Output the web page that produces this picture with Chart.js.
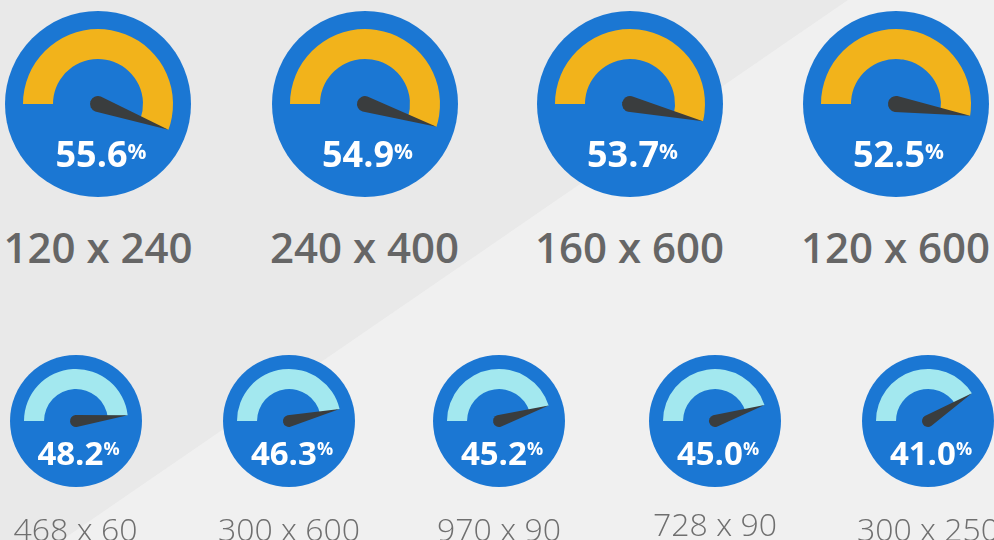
<!DOCTYPE html>
<html>
<head>
<meta charset="utf-8">
<script src="https://cdn.jsdelivr.net/npm/chart.js@4.4.1/dist/chart.umd.min.js"></script>
<style>
  html, body { margin: 0; padding: 0; }
  body {
    width: 994px; height: 540px; overflow: hidden; position: relative;
    background: #e9e9e9; font-family: "Open Sans", sans-serif;
  }
  .light {
    position: absolute; left: 0; top: 0; width: 994px; height: 540px;
    background: #f0f0f0;
    clip-path: polygon(848px 0, 994px 0, 994px 540px, 62px 540px);
  }
  .gauge { position: absolute; }
  .rate {
    position: absolute; width: 200px; text-align: center; color: #fff;
    font-weight: 700; line-height: 1; white-space: nowrap;
  }
  .rate sup { vertical-align: top; position: relative; line-height: 1; }
  .size {
    position: absolute; width: 260px; text-align: center; line-height: 1; white-space: nowrap;
  }
  .big .size { font-weight: 600; color: #666; }
  .small .size { font-weight: 300; color: #6f6f6f; }
</style>
</head>
<body>
<div class="light"></div>
<div id="wrap"></div>
<script>
// --- DATOS ---
const sizes = ['120 x 240', '240 x 400', '160 x 600', '120 x 600',
               '468 x 60', '300 x 600', '970 x 90', '728 x 90', '300 x 250'];
const rates = [55.6, 54.9, 53.7, 52.5, 48.2, 46.3, 45.2, 45.0, 41.0];
const topCount = 4;   // los 4 primeros van en la fila grande

// --- ESTILO ---
const FACE = '#1b77d3';
const NEEDLE = '#3a3d3e';
const ARC_BIG = '#f2b31b';
const ARC_SMALL = '#a3e8ef';

// geometría por fila
const rows = {
    big:   { cx: [98, 364.5, 629.5, 895.5], cy: 104, face: 93, outer: 75, cutout: '60%', hub: 8,
             numSize: 36, pctSize: 21, numBase: 168, pctTop: 5, labelSize: 42, sizeBase: [263, 263, 263, 263] },
    small: { cx: [75.5, 289, 499, 715, 928], cy: 421, face: 66, outer: 52, cutout: '61.5%', hub: 6,
             numSize: 33, pctSize: 18, numBase: 465, pctTop: 3, labelSize: 32, sizeBase: [541, 541, 541, 536, 541] }
};

// cara azul + aguja, calculadas desde el arco que dibuja Chart.js
const dialPlugin = {
    id: 'dial',
    beforeDatasetsDraw(chart, args, opts) {
        const arc = chart.getDatasetMeta(0).data[0];
        const ctx = chart.ctx;
        ctx.save();
        ctx.fillStyle = FACE;
        ctx.beginPath();
        ctx.arc(arc.x, arc.y, opts.face, 0, Math.PI * 2);
        ctx.fill();
        ctx.restore();
    },
    afterDatasetsDraw(chart, args, opts) {
        const arc = chart.getDatasetMeta(0).data[0];
        const ctx = chart.ctx;
        const a = arc.endAngle;
        const tipX = arc.x + Math.cos(a) * arc.outerRadius;
        const tipY = arc.y + Math.sin(a) * arc.outerRadius;
        ctx.save();
        ctx.fillStyle = NEEDLE;
        ctx.beginPath();
        ctx.arc(arc.x, arc.y, opts.hub, a + Math.PI / 2, a + Math.PI * 1.5);
        ctx.lineTo(tipX, tipY);
        ctx.closePath();
        ctx.fill();
        ctx.restore();
    }
};

const wrap = document.getElementById('wrap');

rates.forEach((value, i) => {
    const isBig = i < topCount;
    const row = isBig ? rows.big : rows.small;
    const k = isBig ? i : i - topCount;
    const cx = row.cx[k];
    const half = row.face + 3;

    const box = document.createElement('div');
    box.className = 'gauge ' + (isBig ? 'big' : 'small');
    box.style.left = '0px';
    box.style.top = '0px';

    const canvas = document.createElement('canvas');
    canvas.width = half * 2;
    canvas.height = half * 2;
    canvas.style.position = 'absolute';
    canvas.style.left = (cx - half) + 'px';
    canvas.style.top = (row.cy - half) + 'px';
    box.appendChild(canvas);

    // porcentaje
    const rate = document.createElement('div');
    rate.className = 'rate';
    rate.style.fontSize = row.numSize + 'px';
    rate.style.left = (cx - 100 + 3) + 'px';
    rate.style.top = (row.numBase - 0.888 * row.numSize) + 'px';
    const num = document.createElement('span');
    num.textContent = value.toFixed(1);
    const pct = document.createElement('sup');
    pct.textContent = '%';
    pct.style.fontSize = row.pctSize + 'px';
    pct.style.top = row.pctTop + 'px';
    rate.appendChild(num);
    rate.appendChild(pct);
    box.appendChild(rate);

    // etiqueta de tamaño
    const label = document.createElement('div');
    label.className = 'size';
    label.style.fontSize = row.labelSize + 'px';
    label.style.left = (cx - 130) + 'px';
    label.style.top = (row.sizeBase[k] - 0.888 * row.labelSize) + 'px';
    label.textContent = sizes[i];
    box.appendChild(label);

    wrap.appendChild(box);

    new Chart(canvas.getContext('2d'), {
        type: 'doughnut',
        data: {
            labels: ['tasa', 'resto'],
            datasets: [{
                data: [value, 100 - value],
                backgroundColor: [isBig ? ARC_BIG : ARC_SMALL, 'rgba(0,0,0,0)'],
                borderWidth: 0
            }]
        },
        options: {
            responsive: false,
            animation: false,
            events: [],
            devicePixelRatio: 1,
            rotation: -90,
            circumference: 360,
            radius: row.outer,
            cutout: row.cutout,
            plugins: {
                legend: { display: false },
                tooltip: { enabled: false },
                dial: { face: row.face, hub: row.hub }
            }
        },
        plugins: [dialPlugin]
    });
});
</script>
</body>
</html>
